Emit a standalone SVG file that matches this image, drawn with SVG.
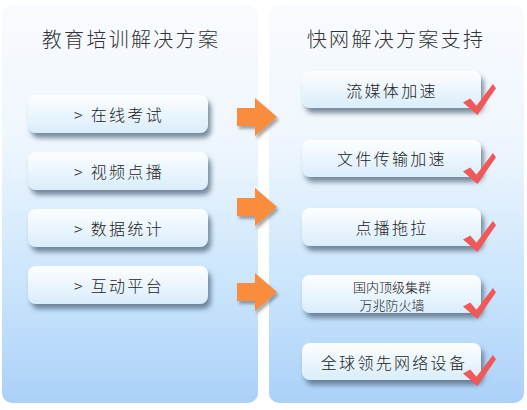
<svg xmlns="http://www.w3.org/2000/svg" width="527" height="410" viewBox="0 0 527 410">
<defs>
  <linearGradient id="panelGrad" x1="0" y1="0" x2="0" y2="1">
    <stop offset="0" stop-color="#f9fbfe"/>
    <stop offset="0.35" stop-color="#eef6fd"/>
    <stop offset="0.72" stop-color="#c8e4fc"/>
    <stop offset="1" stop-color="#abd0f8"/>
  </linearGradient>
  <linearGradient id="btnGrad" x1="0" y1="0" x2="0" y2="1">
    <stop offset="0" stop-color="#fdfeff"/>
    <stop offset="1" stop-color="#d9edfb"/>
  </linearGradient>
  <filter id="btnShadow" x="-10%" y="-20%" width="125%" height="160%">
    <feDropShadow dx="3" dy="5" stdDeviation="2.5" flood-color="#4a5e72" flood-opacity="0.7"/>
  </filter>
  <filter id="arrShadow" x="-20%" y="-20%" width="150%" height="150%">
    <feDropShadow dx="2" dy="3" stdDeviation="1.5" flood-color="#404040" flood-opacity="0.45"/>
  </filter>
  <symbol id="check" viewBox="0 0 32 30" overflow="visible">
    <path d="M0,18 L7,14 L13,21 L29,0 L32,4 L14,30 Z" fill="#f25858"/>
  </symbol>
  <path id="arrowShape" d="M0,-9 L18,-9 L18,-19 L40,0 L18,19 L18,9 L0,9 Z"/>
</defs>
<style>
  .panel { fill: url(#panelGrad); }
  .btn { fill: url(#btnGrad); filter: url(#btnShadow); }
  .title { font-family: "Noto Sans CJK SC", "Noto Sans", sans-serif; font-size: 20px; font-weight: 300; fill: #333; letter-spacing: 2.3px; text-anchor: middle; }
  .lbl { font-family: "Noto Sans CJK SC", "Noto Sans", sans-serif; font-size: 16px; font-weight: 300; fill: #222; letter-spacing: 2.3px; text-anchor: middle; dominant-baseline: central; }
  .small { font-family: "Noto Sans CJK SC", "Noto Sans", sans-serif; font-size: 13px; font-weight: 300; fill: #222; text-anchor: middle; dominant-baseline: central; }
  .arrow { fill: #fa8c3c; filter: url(#arrShadow); }
</style>

<g id="leftPanel">
  <rect class="panel" x="2" y="5" width="256" height="398" rx="10"/>
  <text class="title" x="131" y="47">教育培训解决方案</text>
</g>
<g id="rightPanel">
  <rect class="panel" x="269" y="5" width="255" height="398" rx="10"/>
  <text class="title" x="396" y="47">快网解决方案支持</text>
</g>

<g id="l1"><rect class="btn" x="28" y="95" width="180" height="38" rx="8"/><text class="lbl" x="119" y="114">&gt; 在线考试</text></g>
<g id="l2"><rect class="btn" x="28" y="152" width="180" height="38" rx="8"/><text class="lbl" x="119" y="171">&gt; 视频点播</text></g>
<g id="l3"><rect class="btn" x="28" y="209" width="180" height="38" rx="8"/><text class="lbl" x="119" y="228">&gt; 数据统计</text></g>
<g id="l4"><rect class="btn" x="28" y="266" width="180" height="38" rx="8"/><text class="lbl" x="119" y="285">&gt; 互动平台</text></g>

<g id="r1"><rect class="btn" x="302" y="71" width="179" height="37" rx="8"/><text class="lbl" x="392" y="90">流媒体加速</text><use href="#check" x="463" y="84" width="33" height="31"/></g>
<g id="r2"><rect class="btn" x="302" y="140" width="179" height="37" rx="8"/><text class="lbl" x="392" y="158">文件传输加速</text><use href="#check" x="463" y="153" width="33" height="31"/></g>
<g id="r3"><rect class="btn" x="302" y="208" width="179" height="38" rx="8"/><text class="lbl" x="392" y="227">点播拖拉</text><use href="#check" x="463" y="221" width="33" height="31"/></g>
<g id="r4"><rect class="btn" x="302" y="275" width="179" height="38" rx="8"/><text class="small" x="392" y="286">国内顶级集群</text><text class="small" x="392" y="304">万兆防火墙</text><use href="#check" x="463" y="288" width="33" height="31"/></g>
<g id="r5"><rect class="btn" x="302" y="343" width="179" height="37" rx="8"/><text class="lbl" x="394" y="362">全球领先网络设备</text><use href="#check" x="463" y="355" width="33" height="31"/></g>

<g id="connectors">
  <use href="#arrowShape" class="arrow" x="237" y="117"/>
  <use href="#arrowShape" class="arrow" x="237" y="207"/>
  <use href="#arrowShape" class="arrow" x="237" y="292"/>
</g>
</svg>
